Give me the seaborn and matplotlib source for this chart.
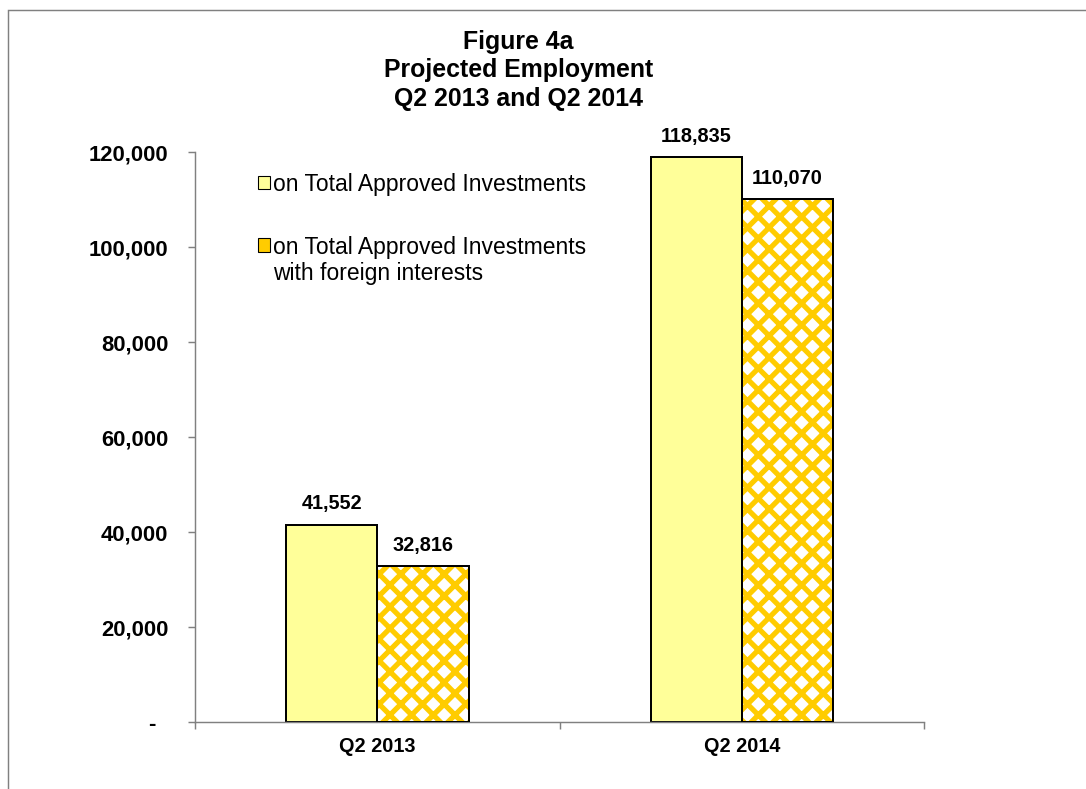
import numpy as np
import pandas as pd
import seaborn as sns
import matplotlib.pyplot as plt
from matplotlib.patches import Rectangle, Patch
from matplotlib.ticker import FuncFormatter

# data
periods = ["Q2 2013", "Q2 2014"]
series = ["on Total Approved Investments",
          "on Total Approved Investments with foreign interests"]
total_approved = [41552, 118835]
foreign_interest = [32816, 110070]

df = pd.DataFrame({
    "period": periods * 2,
    "series": [series[0]] * 2 + [series[1]] * 2,
    "employment": total_approved + foreign_interest,
})

sns.set_theme(style="white")
plt.rcParams['font.family'] = ['Liberation Sans', 'DejaVu Sans']
plt.rcParams['hatch.linewidth'] = 2.9
plt.rcParams['text.color'] = 'black'
plt.rcParams['xtick.labelcolor'] = 'black'
plt.rcParams['ytick.labelcolor'] = 'black'

light_yellow = "#FFFF99"
gold = "#FFCC00"
grey = "#808080"

DPI = 130
fig = plt.figure(figsize=(1086.3 / DPI, 789.3 / DPI), dpi=DPI)
ax = fig.add_axes([195 / 1086, 1 - 722 / 789, (924 - 195) / 1086, (722 - 152) / 789])

sns.barplot(data=df, x="period", y="employment", hue="series",
            palette=[light_yellow, gold], saturation=1, width=0.5,
            edgecolor="black", linewidth=1.1, legend=False, ax=ax)

# hatched second series: white with gold diamonds, then a black outline
for bar in ax.containers[1]:
    bar.set_facecolor("white")
    bar.set_edgecolor(gold)
    bar.set_linewidth(0)
    bar.set_hatch("xx")
    ax.add_patch(Rectangle(bar.get_xy(), bar.get_width(), bar.get_height(),
                           fill=False, edgecolor="black", linewidth=1.1, zorder=3))

for cont in ax.containers[:2]:
    ax.bar_label(cont, fmt="{:,.0f}", padding=6.5, fontsize=11,
                 fontweight="bold", color="black")

ax.set_ylim(0, 120000)
ax.set_xlim(-0.5, 1.5)
ax.set_yticks(np.arange(0, 120001, 20000))
ax.yaxis.set_major_formatter(FuncFormatter(lambda v, p: f"{v:,.0f}" if v else "-  "))
ax.tick_params(axis="y", direction="out", length=3.9, width=0.8, color=grey,
               labelcolor="black", pad=11, labelsize=12.2, left=True)
for lbl in ax.get_yticklabels():
    lbl.set_fontweight("bold")

ax.set_xticks([0, 1])
ax.set_xticklabels(periods, fontweight="bold", fontsize=11)
ax.set_xticks([-0.5, 0.5, 1.5], minor=True)
ax.tick_params(axis="x", which="major", length=0, pad=8, labelcolor="black")
ax.tick_params(axis="x", which="minor", direction="out", length=3.9, width=0.8,
               color=grey, bottom=True)
ax.set_xlabel("")
ax.set_ylabel("")

sns.despine(ax=ax)
for s in ["left", "bottom"]:
    ax.spines[s].set_color(grey)
    ax.spines[s].set_linewidth(0.8)

# legend
handles = [Patch(facecolor=light_yellow, edgecolor="black", linewidth=0.6),
           Patch(facecolor=gold, edgecolor="black", linewidth=0.6)]
leg = ax.legend(handles, ["on Total Approved Investments", "on Total Approved Investments"],
                loc="upper left", bbox_to_anchor=(258 / 1086, 1 - 173 / 789),
                bbox_transform=fig.transFigure, frameon=False, fontsize=12.7,
                handlelength=0.52, handleheight=0.52, handletextpad=0.15,
                labelspacing=1.72, borderpad=0, borderaxespad=0)
for t in leg.get_texts():
    t.set_color("black")
ax.annotate("with foreign interests", xy=(0, 0), xycoords=leg.get_texts()[1],
            xytext=(0, -1.7), textcoords="offset points", va="top", ha="left",
            fontsize=12.7, color="black", zorder=10)

fig.text(518 / 1086, 1 - 29.5 / 789, "Figure 4a\nProjected Employment\nQ2 2013 and Q2 2014",
         ha="center", va="top", fontsize=13.8, fontweight="bold", linespacing=1.24)

# outer chart border (left and top edges visible)
fig.patches.append(Rectangle((8 / 1086, -0.1), 1.2, 1.1 - 10 / 789, fill=False,
                             edgecolor=grey, linewidth=0.8, transform=fig.transFigure))

fig.savefig("out.png", dpi=DPI)
